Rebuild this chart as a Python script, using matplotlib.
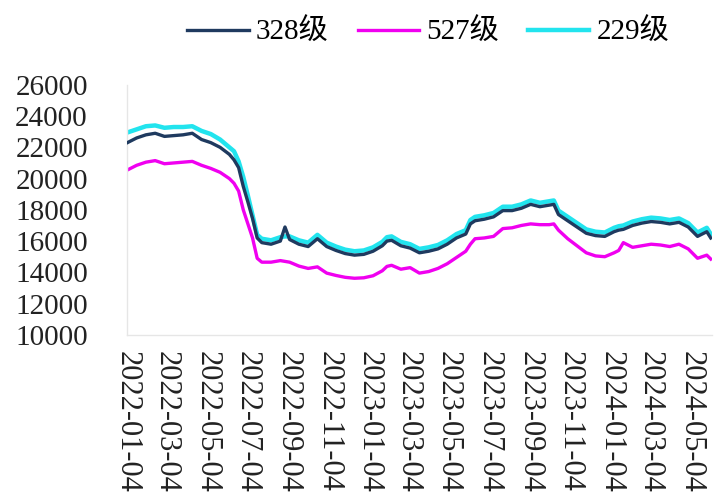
import matplotlib
matplotlib.use('Agg')
import matplotlib.pyplot as plt
import matplotlib.dates as mdates
import numpy as np
import pandas as pd

plt.rcParams['font.family'] = ['Liberation Serif', 'Noto Sans CJK SC']

dates = pd.to_datetime([
    '2022-01-04', '2022-01-18', '2022-02-01', '2022-02-15', '2022-03-01',
    '2022-03-15', '2022-03-29', '2022-04-12', '2022-04-26', '2022-05-10',
    '2022-05-24', '2022-06-07', '2022-06-14', '2022-06-21', '2022-06-28',
    '2022-07-05', '2022-07-12', '2022-07-19', '2022-07-26', '2022-08-09',
    '2022-08-23', '2022-08-30', '2022-09-06', '2022-09-20', '2022-10-04',
    '2022-10-18', '2022-11-01', '2022-11-15', '2022-11-29', '2022-12-13',
    '2022-12-27', '2023-01-10', '2023-01-24', '2023-01-31', '2023-02-07',
    '2023-02-21', '2023-03-07', '2023-03-21', '2023-04-04', '2023-04-18',
    '2023-05-02', '2023-05-16', '2023-05-30', '2023-06-06', '2023-06-13',
    '2023-06-27', '2023-07-11', '2023-07-25', '2023-08-08', '2023-08-22',
    '2023-09-05', '2023-09-19', '2023-10-03', '2023-10-10', '2023-10-17',
    '2023-10-31', '2023-11-14', '2023-11-28', '2023-12-12', '2023-12-26',
    '2024-01-09', '2024-01-16', '2024-01-23', '2024-02-06', '2024-02-20',
    '2024-03-05', '2024-03-19', '2024-04-02', '2024-04-16', '2024-04-30',
    '2024-05-14', '2024-05-21', '2024-05-28', '2024-06-03',
])

grade_328 = [
    22300, 22600, 22800, 22900, 22700, 22750, 22800, 22900, 22500, 22300,
    22000, 21550, 21200, 20700, 19500, 18500, 17450, 16200, 15900, 15800,
    16000, 16900, 16100, 15800, 15650, 16150, 15650, 15400, 15200, 15100,
    15150, 15350, 15700, 16000, 16050, 15700, 15550, 15250, 15350, 15500,
    15800, 16200, 16450, 17100, 17300, 17400, 17550, 17950, 17950, 18100,
    18350, 18200, 18300, 18350, 17700, 17300, 16900, 16500, 16350, 16300,
    16600, 16700, 16750, 17000, 17150, 17250, 17200, 17100, 17200, 16900,
    16300, 16450, 16600, 16200,
]

grade_527 = [
    20550, 20850, 21050, 21150, 20950, 21000, 21050, 21100, 20850, 20650,
    20400, 20000, 19700, 19200, 18000, 17100, 16200, 14900, 14650, 14650,
    14750, 14700, 14650, 14400, 14250, 14350, 13950, 13800, 13680, 13620,
    13650, 13780, 14100, 14380, 14450, 14200, 14300, 13950, 14050, 14250,
    14550, 14950, 15350, 15800, 16150, 16200, 16300, 16800, 16850, 17000,
    17100, 17050, 17050, 17100, 16700, 16150, 15700, 15250, 15050, 15000,
    15250, 15400, 15900, 15600, 15700, 15800, 15750, 15650, 15800, 15500,
    14900, 15000, 15100, 14850,
]

grade_229 = [
    22950, 23150, 23350, 23400, 23250, 23300, 23300, 23350, 23050, 22850,
    22500, 22000, 21750, 21100, 20100, 18900, 17650, 16400, 16150, 16050,
    16250, 16300, 16300, 16050, 15900, 16400, 15900, 15650, 15450, 15350,
    15400, 15600, 15950, 16250, 16300, 15950, 15800, 15500, 15600, 15750,
    16050, 16450, 16700, 17350, 17550, 17650, 17800, 18200, 18200, 18350,
    18600, 18450, 18550, 18600, 17950, 17550, 17150, 16750, 16600, 16550,
    16850, 16950, 17000, 17250, 17400, 17500, 17450, 17350, 17450, 17150,
    16550, 16700, 16850, 16450,
]

fig = plt.figure(figsize=(7.2, 4.99), dpi=100)
ax = fig.add_axes([0.176, 0.329, 0.813, 0.501])

ax.plot(dates, grade_328, color='#1F3A5F', lw=2.4, label='328级', zorder=3)
ax.plot(dates, grade_527, color='#F000F0', lw=2.4, label='527级', zorder=2)
# cyan sits behind the navy line, a bit wider
ax.plot(dates, grade_229, color='#22E4EE', lw=3.2, label='229级', zorder=1)

ax.set_ylim(10000, 26000)
ax.set_yticks(np.arange(10000, 26001, 2000))
ax.set_xlim(pd.Timestamp('2022-01-03'), pd.Timestamp('2024-06-05'))

ticks = pd.date_range('2022-01-01', '2024-05-01', freq='2MS') + pd.Timedelta(days=3)
ax.set_xticks(ticks)
ax.xaxis.set_major_formatter(mdates.DateFormatter('%Y-%m-%d'))

for s in ['top', 'right']:
    ax.spines[s].set_visible(False)
for s in ['left', 'bottom']:
    ax.spines[s].set_color('#E6E6E6')
    ax.spines[s].set_linewidth(1.0)

ax.tick_params(axis='y', length=0, pad=28, labelsize=21, colors='#222222')
ax.tick_params(axis='x', length=0, pad=12, labelsize=22, colors='#222222',
               labelrotation=-90)

handles, labels = ax.get_legend_handles_labels()
fig.legend(handles, labels, loc='center', bbox_to_anchor=(0.595, 0.935),
           ncol=3, frameon=False, fontsize=21, handlelength=2.1,
           handletextpad=0.25, columnspacing=1.0)

fig.savefig('out.png', dpi=100)
